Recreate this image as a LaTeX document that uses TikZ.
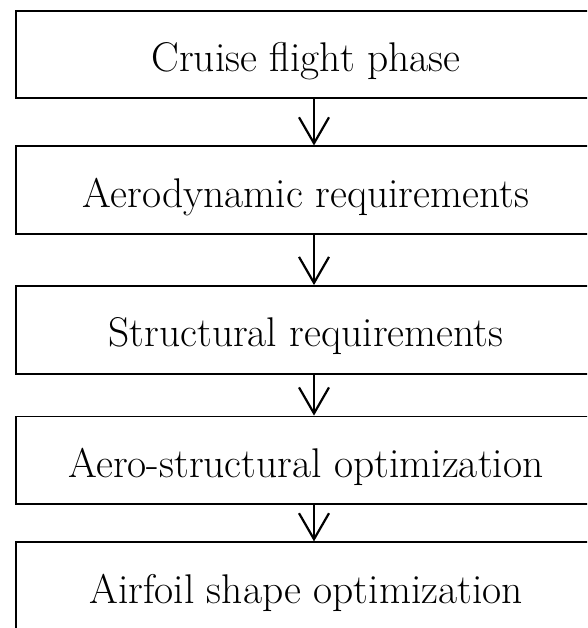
\documentclass[tikz,border=0pt]{standalone}
\usepackage{fontspec}
\usetikzlibrary{arrows.meta}

\begin{document}
\begin{tikzpicture}[x=1pt, y=-1pt]
        \useasboundingbox (0,0) rectangle (587,628);
        \clip (0,0) rectangle (587,628);
        \tikzset{stepbox/.style={draw, line width=1.8pt, minimum width=580pt, minimum height=87.6pt, inner sep=0pt, font=\fontsize{41.5}{48}\selectfont, text height=43pt, text depth=9pt}}
        \node[stepbox] (cruise) at (306, 54.5) {Cruise flight phase};
        \node[stepbox] (aero) at (306, 190.2) {Aerodynamic requirements};
        \node[stepbox] (struct) at (306, 329.8) {Structural requirements};
        \node[stepbox] (aerostruct) at (306, 460.3) {Aero-structural optimization};
        \node[stepbox] (airfoil) at (306, 586.1) {Airfoil shape optimization};
        % arrows between the steps
        \coordinate (axis) at (314, 0);
        \tikzset{flowarrow/.style={-{Straight Barb[length=26pt, width=30pt]}, line width=2.2pt}}
        \draw[flowarrow] (cruise.south -| axis) -- (aero.north -| axis);
        \draw[flowarrow] (aero.south -| axis) -- (struct.north -| axis);
        \draw[flowarrow] (struct.south -| axis) -- (aerostruct.north -| axis);
        \draw[flowarrow] (aerostruct.south -| axis) -- (airfoil.north -| axis);
\end{tikzpicture}
\end{document}
